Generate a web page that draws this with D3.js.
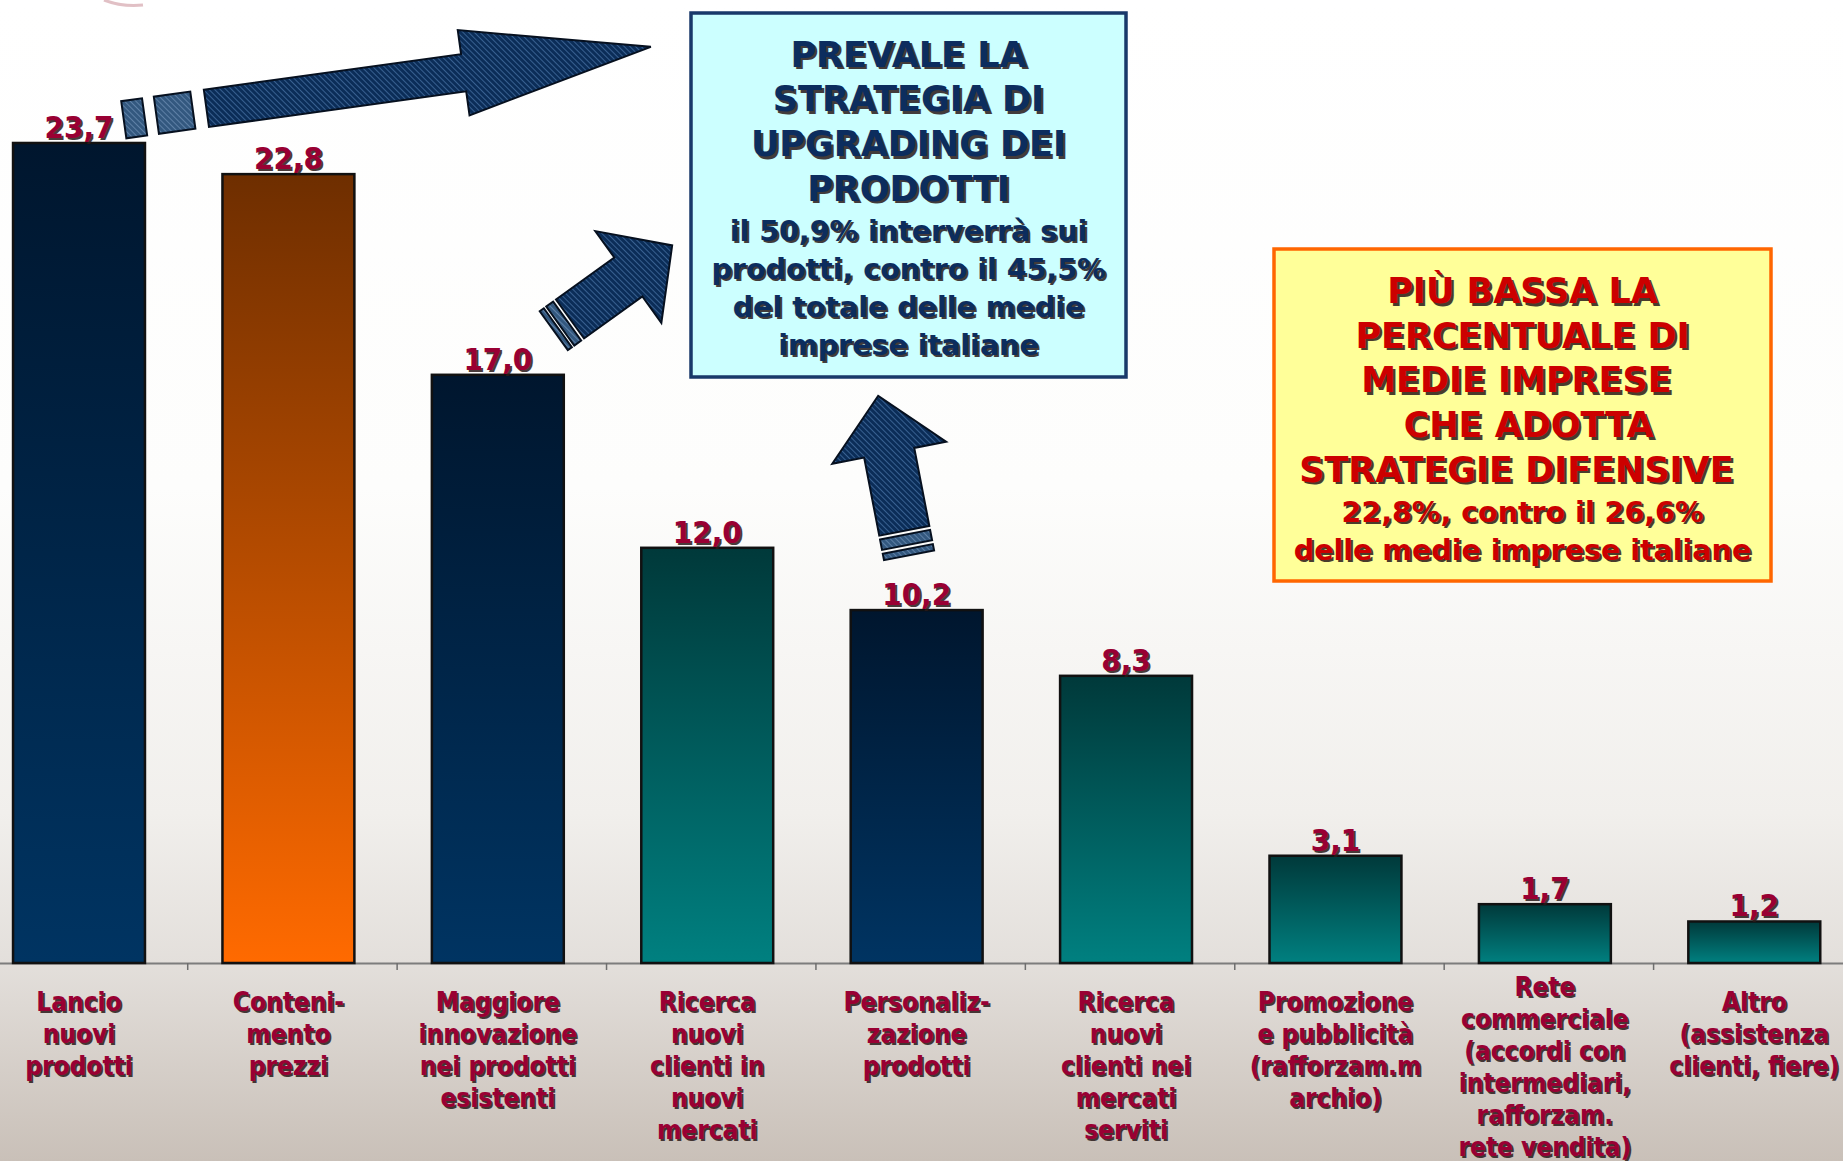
<!DOCTYPE html>
<html>
<head>
<meta charset="utf-8">
<script src="https://cdn.jsdelivr.net/npm/d3@7"></script>
<style>
  body { margin: 0; background: #fff; }
  svg { display: block; }
</style>
</head>
<body>
<div id="chart"></div>
<script>
// data
var categories = ["Lancio\nnuovi\nprodotti", "Conteni-\nmento\nprezzi", "Maggiore\ninnovazione\nnei prodotti\nesistenti",
  "Ricerca\nnuovi\nclienti in\nnuovi\nmercati", "Personaliz-\nzazione\nprodotti", "Ricerca\nnuovi\nclienti nei\nmercati\nserviti",
  "Promozione\ne pubblicità\n(rafforzam.m\narchio)", "Rete\ncommerciale\n(accordi con\nintermediari,\nrafforzam.\nrete vendita)",
  "Altro\n(assistenza\nclienti, fiere)"];
var values = [23.7, 22.8, 17.0, 12.0, 10.2, 8.3, 3.1, 1.7, 1.2];
var strategyType = ["prodotto", "difensiva", "prodotto", "mercato", "prodotto", "mercato", "mercato", "mercato", "mercato"];

var upgradingTitle = ["PREVALE LA", "STRATEGIA DI", "UPGRADING DEI", "PRODOTTI"];
var upgradingText = ["il 50,9% interverrà sui", "prodotti, contro il 45,5%", "del totale delle medie", "imprese italiane"];
var defensiveTitle = ["PIÙ BASSA LA", "PERCENTUALE DI", "MEDIE IMPRESE ", " CHE ADOTTA", "STRATEGIE DIFENSIVE "];
var defensiveText = ["22,8%, contro il 26,6%", "delle medie imprese italiane"];

var W = 1843, H = 1161;
var condFont = '"DejaVu Sans Condensed", "Liberation Sans Narrow", "DejaVu Sans", sans-serif';
var wideFont = '"DejaVu Sans", Verdana, sans-serif';

var it = d3.formatLocale({decimal: ",", thousands: ".", grouping: [3], currency: ["", "€"]});
var fmt = it.format(".1f");

var svg = d3.select("#chart").append("svg")
    .attr("width", W)
    .attr("height", H);

var defs = svg.append("defs");

// background
var bg = defs.append("linearGradient").attr("id", "bg")
    .attr("x1", 0).attr("y1", 0).attr("x2", 0).attr("y2", 1);
[[0, "#ffffff"], [0.42, "#fdfdfc"], [0.7, "#f1efec"], [0.83, "#e3dfdb"], [1, "#c9c0b8"]].forEach(function(s){
  bg.append("stop").attr("offset", s[0]).attr("stop-color", s[1]);
});
svg.append("rect").attr("width", W).attr("height", H).attr("fill", "url(#bg)");

// bar gradients
var barColors = {prodotto: ["#00162e", "#003462"], difensiva: ["#6e2e00", "#ff6a00"], mercato: ["#00393a", "#008080"]};
Object.keys(barColors).forEach(function(k){
  var g = defs.append("linearGradient").attr("id", "g-" + k)
      .attr("x1", 0).attr("y1", 0).attr("x2", 0).attr("y2", 1);
  g.append("stop").attr("offset", 0).attr("stop-color", barColors[k][0]);
  g.append("stop").attr("offset", 1).attr("stop-color", barColors[k][1]);
});

// hatch patterns for the arrows
function hatch(id, base, line){
  var p = defs.append("pattern").attr("id", id)
      .attr("patternUnits", "userSpaceOnUse")
      .attr("width", 4).attr("height", 4)
      .attr("patternTransform", "rotate(-45)");
  p.append("rect").attr("width", 4).attr("height", 4).attr("fill", base);
  p.append("line").attr("x1", 0.5).attr("y1", 0).attr("x2", 0.5).attr("y2", 4)
      .attr("stroke", line).attr("stroke-width", 0.8).attr("opacity", 0.7);
}
hatch("hatchDark", "#0b2d58", "#5b88bb");
hatch("hatchLight", "#33587f", "#7fa0c4");

// scales
var x = d3.scaleBand()
    .domain(categories)
    .range([-25.7, 1859])
    .paddingInner(0.37)
    .paddingOuter(0.185);

var y = d3.scaleLinear()
    .domain([0, 25])
    .range([963, 98]);

var color = d3.scaleOrdinal()
    .domain(["prodotto", "difensiva", "mercato"])
    .range(["url(#g-prodotto)", "url(#g-difensiva)", "url(#g-mercato)"]);

var data = categories.map(function(c, i){ return {key: c, value: values[i], type: strategyType[i]}; });

// faint leftover stroke at the top left of the slide
svg.append("path")
    .attr("d", "M104,0 Q122,7 143,5")
    .attr("fill", "none")
    .attr("stroke", "#c98c96")
    .attr("stroke-width", 3)
    .attr("opacity", 0.55);

// axis line
var axis = svg.append("g")
    .attr("transform", "translate(0," + y(0) + ")")
    .call(d3.axisBottom(x).tickSize(0).tickFormat(""));
axis.select(".domain").attr("stroke", "#7d7d7d").attr("stroke-width", 2);

// ticks between categories
var gap = x.step() - x.bandwidth();
svg.selectAll("tickLines")
    .data(categories)
    .enter()
    .append("line")
      .attr("x1", function(d){ return x(d) + x.bandwidth() + gap / 2 + 4; })
      .attr("x2", function(d){ return x(d) + x.bandwidth() + gap / 2 + 4; })
      .attr("y1", y(0))
      .attr("y2", y(0) + 7)
      .attr("stroke", "#6e6e6e")
      .attr("stroke-width", 1.5);

// bars
svg.selectAll("bars")
    .data(data)
    .enter()
    .append("rect")
      .attr("x", function(d){ return x(d.key); })
      .attr("y", function(d){ return y(d.value); })
      .attr("width", x.bandwidth())
      .attr("height", function(d){ return y(0) - y(d.value); })
      .attr("fill", function(d){ return color(d.type); })
      .attr("stroke", "#111")
      .attr("stroke-width", 2.5);

// text with a drop shadow
function shadowText(g, tx, ty, str, font, size, fill, off){
  var t = [["#2a1a1a", off], [fill, 0]];
  t.forEach(function(s){
    g.append("text")
      .attr("x", tx + s[1])
      .attr("y", ty + s[1])
      .attr("text-anchor", "middle")
      .style("font-family", font)
      .style("font-weight", "bold")
      .style("font-size", size + "px")
      .style("white-space", "pre")
      .attr("fill", s[0])
      .attr("opacity", s[1] ? 0.85 : 1)
      .text(str);
  });
}

// value labels
var labels = svg.append("g");
data.forEach(function(d){
  shadowText(labels, x(d.key) + x.bandwidth() / 2, y(d.value) - 5, fmt(d.value), condFont, 31, "#990033", 2);
});

// category labels: top aligned, pushed up only when they would run off the slide
var cats = svg.append("g");
data.forEach(function(d){
  var lines = d.key.split("\n");
  var first = Math.min(1002, 1147 - (lines.length - 1) * 32);
  lines.forEach(function(l, j){
    shadowText(cats, x(d.key) + x.bandwidth() / 2, first + j * 32 + 9, l, condFont, 26, "#990033", 1.8);
  });
});

// arrows
function arrow(a){
  var ux = a.dir[0], uy = a.dir[1], L = Math.hypot(ux, uy);
  ux /= L; uy /= L;
  var nx = -uy, ny = ux;
  function P(s, w){ return [a.tail[0] + ux * s + nx * w, a.tail[1] + uy * s + ny * w]; }
  var sw = a.shaftW / 2, hw = a.headW / 2, sl = a.shaftL;
  var body = [P(0, -sw), P(sl, -sw), P(sl, -hw), P(sl + a.headL, 0), P(sl, hw), P(sl, sw), P(0, sw)];
  var g = svg.append("g");
  a.pieces.forEach(function(p){
    g.append("polygon")
      .attr("points", [P(-p[0], -sw), P(-p[0], sw), P(-p[1], sw), P(-p[1], -sw)].join(" "))
      .attr("fill", "url(#hatchLight)")
      .attr("stroke", "#06101f")
      .attr("stroke-width", 2);
  });
  g.append("polygon")
    .attr("points", body.join(" "))
    .attr("fill", "url(#hatchDark)")
    .attr("stroke", "#06101f")
    .attr("stroke-width", 2)
    .attr("stroke-linejoin", "miter");
}

arrow({tail: [206.4, 108.3], dir: [0.9905, -0.137], shaftL: 259.7, shaftW: 37.5, headL: 189, headW: 86,
       pieces: [[13.7, 50.5], [62.4, 83.4]]});
arrow({tail: [570, 319], dir: [0.811, -0.584], shaftL: 71.9, shaftW: 48, headL: 54, headW: 113,
       pieces: [[3.5, 12], [15, 20]]});
arrow({tail: [904.3, 530.8], dir: [-0.19, -0.982], shaftL: 79.5, shaftW: 51, headL: 58, headW: 116,
       pieces: [[4, 14.5], [18.5, 25]]});

// annotation boxes
function noteBox(bx, by, bw, bh, fill, stroke, titles, texts, tcol, titleY, textY){
  var g = svg.append("g");
  g.append("rect")
    .attr("x", bx).attr("y", by).attr("width", bw).attr("height", bh)
    .attr("fill", fill)
    .attr("stroke", stroke)
    .attr("stroke-width", 3.5);
  var cx = bx + bw / 2;
  titles.forEach(function(t, i){
    shadowText(g, cx, titleY + i * 44.7 + 12.7, t, wideFont, 35, tcol, 2.5);
  });
  texts.forEach(function(t, i){
    shadowText(g, cx, textY + i * 38 + 10.3, t, wideFont, 28.5, tcol, 2.2);
  });
}

noteBox(691, 13, 435, 364, "#ccffff", "#18396a", upgradingTitle, upgradingText, "#0c2d5e", 54, 230.4);
noteBox(1274, 249, 497, 332, "#ffff99", "#ff6600", defensiveTitle, defensiveText, "#cc0000", 290.3, 511.3);
</script>
</body>
</html>
